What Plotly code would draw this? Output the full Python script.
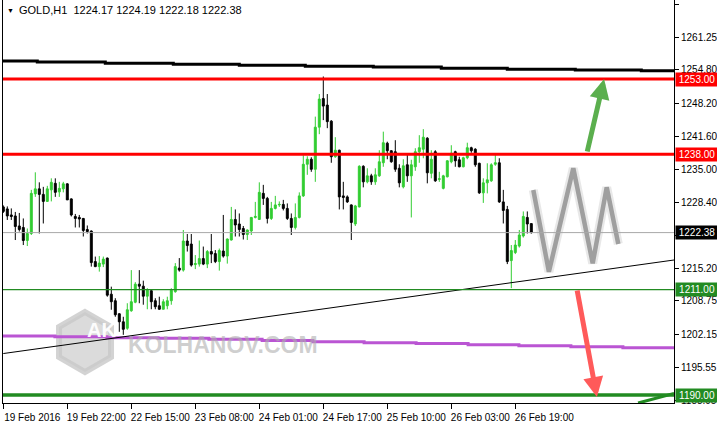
import plotly.graph_objects as go

# ── H1 candles, 19-26 Feb 2016 ──────────────────────────────────────────────
OPEN = [
    1227.5, 1227.1, 1225.9, 1225.7, 1223.7, 1223.4, 1220.8, 1222.2, 1230.1, 1231.1,
    1230.0, 1228.6, 1230.9, 1232.2, 1230.5, 1231.1, 1232.1, 1229.1, 1225.6, 1225.4,
    1225.2, 1223.0, 1222.7, 1216.6, 1215.6, 1216.1, 1217.3, 1210.1, 1208.8, 1206.2,
    1204.6, 1203.3, 1206.8, 1208.5, 1212.1, 1211.7, 1209.7, 1210.8, 1208.8, 1207.8,
    1207.1, 1207.8, 1208.8, 1210.6, 1215.3, 1214.9, 1220.7, 1220.1, 1216.0, 1216.1,
    1217.2, 1216.1, 1218.6, 1218.2, 1216.6, 1218.7, 1217.7, 1220.9, 1225.0, 1224.1,
    1223.2, 1222.0, 1222.7, 1225.4, 1225.0, 1230.2, 1229.2, 1225.2, 1227.2, 1227.9,
    1228.0, 1227.2, 1225.2, 1223.4, 1225.4, 1229.7, 1236.0, 1237.0, 1235.0, 1243.4,
    1249.1, 1247.8, 1244.6, 1237.5, 1238.8, 1229.7, 1229.5, 1227.9, 1224.1, 1227.5,
    1235.6, 1232.5, 1233.7, 1232.5, 1233.7, 1236.3, 1240.2, 1238.7, 1238.5, 1235.2,
    1231.5, 1235.9, 1233.7, 1235.5, 1238.5, 1239.0, 1241.2, 1234.2, 1238.5, 1233.0,
    1231.2, 1233.5, 1236.5, 1238.5, 1236.9, 1235.5, 1237.3, 1239.3, 1239.0, 1236.2,
    1230.3, 1232.3, 1232.7, 1236.0, 1236.3, 1228.5, 1227.0, 1216.8, 1218.4, 1219.7,
    1221.7, 1225.4, 1224.17,
]
HIGH = [
    1227.8, 1227.6, 1227.2, 1226.5, 1226.3, 1225.2, 1223.2, 1230.9, 1234.4, 1232.4,
    1231.5, 1231.7, 1233.2, 1233.2, 1232.5, 1232.5, 1232.2, 1229.2, 1226.1, 1225.9,
    1225.3, 1223.8, 1222.8, 1217.6, 1217.7, 1217.6, 1217.4, 1211.6, 1209.3, 1206.3,
    1205.6, 1208.3, 1214.9, 1212.5, 1214.9, 1212.8, 1211.3, 1211.1, 1209.3, 1209.6,
    1209.1, 1209.6, 1211.3, 1216.3, 1217.3, 1222.9, 1222.1, 1222.1, 1217.9, 1220.8,
    1219.6, 1218.9, 1222.1, 1218.9, 1219.2, 1225.9, 1221.2, 1227.5, 1227.0, 1226.2,
    1223.7, 1223.0, 1225.5, 1228.5, 1232.4, 1231.9, 1229.5, 1228.5, 1229.7, 1228.6,
    1228.9, 1228.2, 1226.2, 1228.2, 1230.4, 1237.8, 1237.6, 1237.4, 1245.5, 1250.0,
    1253.5, 1250.0, 1244.8, 1241.4, 1238.9, 1232.5, 1229.8, 1228.0, 1227.9, 1235.8,
    1235.8, 1235.2, 1234.1, 1235.2, 1238.8, 1242.5, 1240.5, 1238.8, 1240.8, 1236.0,
    1237.0, 1238.2, 1236.9, 1239.2, 1241.8, 1243.0, 1241.4, 1238.8, 1238.8, 1234.5,
    1233.9, 1236.8, 1239.8, 1238.7, 1237.5, 1237.5, 1240.3, 1239.5, 1239.2, 1236.3,
    1233.2, 1236.2, 1236.2, 1238.2, 1237.2, 1230.9, 1227.7, 1219.9, 1220.9, 1222.9,
    1226.6, 1226.6, 1224.19,
]
LOW = [
    1226.3, 1224.9, 1224.9, 1220.9, 1222.6, 1219.9, 1219.7, 1221.9, 1229.5, 1222.2,
    1224.2, 1228.5, 1228.6, 1229.5, 1229.5, 1230.4, 1228.9, 1225.6, 1223.4, 1223.4,
    1221.6, 1222.2, 1215.6, 1215.5, 1214.6, 1215.5, 1209.6, 1207.0, 1205.6, 1202.6,
    1202.0, 1203.0, 1206.6, 1208.3, 1208.3, 1208.0, 1207.1, 1207.1, 1207.1, 1207.0,
    1207.1, 1207.1, 1208.0, 1210.4, 1214.6, 1214.6, 1218.6, 1215.6, 1215.1, 1215.6,
    1215.9, 1215.3, 1216.3, 1216.3, 1214.8, 1217.4, 1216.2, 1220.8, 1221.6, 1221.6,
    1221.0, 1220.9, 1221.9, 1225.2, 1224.9, 1227.9, 1224.2, 1224.9, 1227.0, 1227.5,
    1226.8, 1224.9, 1221.9, 1223.0, 1225.2, 1229.5, 1233.9, 1234.5, 1232.5, 1242.0,
    1244.8, 1243.2, 1236.3, 1237.3, 1227.0, 1227.0, 1228.3, 1220.9, 1223.7, 1227.4,
    1231.4, 1232.2, 1231.9, 1231.9, 1233.5, 1235.5, 1237.0, 1236.3, 1234.5, 1231.4,
    1231.2, 1232.5, 1225.4, 1234.7, 1236.3, 1237.2, 1232.2, 1233.2, 1232.5, 1232.5,
    1231.0, 1233.4, 1236.2, 1235.5, 1235.4, 1235.4, 1237.0, 1238.3, 1235.5, 1230.1,
    1228.3, 1230.2, 1232.5, 1235.7, 1228.3, 1224.2, 1216.1, 1211.3, 1218.1, 1219.4,
    1221.4, 1222.2, 1222.18,
]
CLOSE = [
    1226.6, 1225.7, 1225.6, 1223.6, 1223.0, 1220.8, 1222.2, 1230.2, 1231.1, 1230.0,
    1228.6, 1231.1, 1232.4, 1230.4, 1231.2, 1232.1, 1228.9, 1225.9, 1225.2, 1225.1,
    1222.8, 1222.6, 1216.4, 1215.6, 1216.3, 1217.1, 1209.9, 1208.6, 1206.0, 1204.6,
    1203.1, 1207.0, 1208.6, 1212.1, 1211.7, 1209.7, 1210.9, 1208.6, 1207.6, 1207.1,
    1208.6, 1208.8, 1210.9, 1215.6, 1214.9, 1220.7, 1219.8, 1215.9, 1216.2, 1217.2,
    1216.1, 1218.6, 1218.1, 1216.6, 1218.8, 1217.7, 1221.1, 1225.0, 1223.9, 1223.0,
    1222.0, 1222.9, 1225.4, 1225.6, 1230.4, 1229.2, 1225.2, 1227.2, 1227.9, 1228.0,
    1227.2, 1225.2, 1223.4, 1225.4, 1229.7, 1236.0, 1237.0, 1235.0, 1243.4, 1249.0,
    1247.6, 1244.5, 1237.5, 1238.8, 1229.5, 1229.4, 1228.5, 1224.4, 1227.7, 1235.6,
    1232.5, 1233.7, 1232.5, 1233.9, 1236.5, 1240.3, 1238.7, 1236.5, 1235.0, 1232.3,
    1235.7, 1233.7, 1235.9, 1238.5, 1239.3, 1241.4, 1234.3, 1237.0, 1232.7, 1233.1,
    1233.7, 1236.7, 1238.2, 1236.7, 1235.5, 1237.3, 1239.3, 1238.7, 1235.9, 1230.3,
    1232.3, 1232.9, 1235.9, 1236.3, 1228.5, 1226.8, 1216.6, 1218.8, 1219.9, 1221.9,
    1225.6, 1224.1, 1222.38,
]

# time axis labels, one every 16 bars
TIME_TICK_BARS = [0, 16, 32, 48, 64, 80, 96, 112, 128]
TIME_TICK_LABELS = ["19 Feb 2016", "19 Feb 22:00", "22 Feb 15:00", "23 Feb 08:00",
                    "24 Feb 01:00", "24 Feb 17:00", "25 Feb 10:00", "26 Feb 03:00",
                    "26 Feb 19:00"]
PRICE_TICKS = [1188.95, 1195.55, 1202.15, 1208.75, 1215.20, 1221.80, 1228.40,
               1235.00, 1241.60, 1248.20, 1254.80, 1261.25, 1267.85]

# horizontal levels
RESISTANCE = [1253.00, 1238.00]
SUPPORT = [1211.00, 1190.00]

# stepped higher-timeframe averages (bar index where value changes, values)
MA_BLACK_STEPS = [8.5, 25.5, 42.5, 59.0, 75.5, 92.5, 109.5, 126.0, 143.0, 159.5]
MA_BLACK_VALUES = [1256.59, 1256.39, 1256.13, 1255.93, 1255.73, 1255.53, 1255.39,
                   1255.13, 1254.93, 1254.79, 1254.65]
MA_PURPLE_STEPS = [12.9, 25.9, 38.7, 51.4, 64.7, 77.4, 90.2, 103.2, 116.2, 128.9,
                   141.9, 154.9]
MA_PURPLE_VALUES = [1201.76, 1201.62, 1201.42, 1201.30, 1201.11, 1200.87, 1200.63,
                    1200.43, 1200.27, 1200.04, 1199.82, 1199.62, 1199.43]

# trend lines: two anchor points each (bar index, price)
TREND_BLACK = [(0.0, 1198.27), (167.7, 1216.92)]
TREND_GREEN = [(158.7, 1188.40), (167.7, 1190.30)]

# forecast drawing
ZIGZAG_X = [132.5, 136.4, 142.5, 147.35, 150.85, 153.75]
ZIGZAG_Y = [1230.87, 1214.58, 1235.20, 1216.26, 1231.41, 1220.11]
ARROW_UP = [(145.9, 1238.25), (150.2, 1253.0)]
ARROW_DOWN = [(143.4, 1211.13), (148.4, 1189.6)]

X_RANGE = [-0.075, 167.675]
Y_RANGE = [1188.41, 1268.75]

GREEN = "#32CD32"
DARK_GREEN = "#228B22"
FONT = "'Liberation Sans', Arial, sans-serif"

W, H = 717, 424
ML, MR, MT, MB = 3, 43, 0, 21
PW, PH = W - ML - MR, H - MT - MB


def px_x(px):
    return (px - ML) / PW


def px_y(py):
    return 1 - (py - MT) / PH


bars = list(range(len(CLOSE)))

fig = go.Figure()

fig.add_trace(go.Candlestick(
    x=bars, open=OPEN, high=HIGH, low=LOW, close=CLOSE,
    increasing=dict(line=dict(color=GREEN, width=1), fillcolor=GREEN),
    decreasing=dict(line=dict(color="#000000", width=1), fillcolor="#000000"),
    whiskerwidth=0, showlegend=False, hoverinfo="skip",
))


def stepped(steps, values):
    xs = [X_RANGE[0]] + steps + [X_RANGE[1]]
    ys = values + [values[-1]]
    return xs, ys


xs, ys = stepped(MA_BLACK_STEPS, MA_BLACK_VALUES)
fig.add_trace(go.Scatter(x=xs, y=ys, mode="lines", line_shape="hv",
                         line=dict(color="#000000", width=3), hoverinfo="skip"))
xs, ys = stepped(MA_PURPLE_STEPS, MA_PURPLE_VALUES)
fig.add_trace(go.Scatter(x=xs, y=ys, mode="lines", line_shape="hv",
                         line=dict(color="#BA55D3", width=3), hoverinfo="skip"))

for pts, col, w in [(TREND_BLACK, "#000000", 1), (TREND_GREEN, DARK_GREEN, 3)]:
    fig.add_trace(go.Scatter(x=[p[0] for p in pts], y=[p[1] for p in pts],
                             mode="lines", line=dict(color=col, width=w),
                             hoverinfo="skip"))

# zigzag with soft shadow
fig.add_trace(go.Scatter(x=ZIGZAG_X, y=ZIGZAG_Y, mode="lines",
                         line=dict(color="rgba(150,150,150,0.22)", width=9),
                         hoverinfo="skip"))
fig.add_trace(go.Scatter(x=ZIGZAG_X, y=ZIGZAG_Y, mode="lines",
                         line=dict(color="rgba(140,140,140,0.8)", width=4.5),
                         hoverinfo="skip"))

shapes = []
for lvl in RESISTANCE:
    shapes.append(dict(type="line", xref="paper", x0=0, x1=1, yref="y", y0=lvl, y1=lvl,
                       line=dict(color="#FF0000", width=3)))
shapes.append(dict(type="line", xref="paper", x0=0, x1=1, yref="y",
                   y0=SUPPORT[0], y1=SUPPORT[0], line=dict(color=DARK_GREEN, width=1.3)))
shapes.append(dict(type="line", xref="paper", x0=0, x1=1, yref="y",
                   y0=SUPPORT[1], y1=SUPPORT[1], line=dict(color=DARK_GREEN, width=3.5)))
shapes.append(dict(type="line", xref="paper", x0=0, x1=1, yref="y",
                   y0=CLOSE[-1], y1=CLOSE[-1], line=dict(color="#A8A8A8", width=1)))

# watermark hexagon
hx, hy, hr = 85, 342, 30
hexpts = [(hx, hy - hr), (hx + 26, hy - hr / 2), (hx + 26, hy + hr / 2),
          (hx, hy + hr), (hx - 26, hy + hr / 2), (hx - 26, hy - hr / 2)]
path = "M " + " L ".join(f"{px_x(a):.4f},{px_y(b):.4f}" for a, b in hexpts) + " Z"
shapes.append(dict(type="path", xref="paper", yref="paper", path=path, layer="below",
                   line=dict(color="rgba(200,200,200,0.8)", width=6),
                   fillcolor="rgba(190,190,190,0.55)"))

annotations = []
for lvl, bg in [(RESISTANCE[0], "#FF0000"), (RESISTANCE[1], "#FF0000"),
                (CLOSE[-1], "#000000"), (SUPPORT[0], DARK_GREEN), (SUPPORT[1], DARK_GREEN)]:
    annotations.append(dict(xref="paper", x=1, xanchor="left", xshift=1, yref="y", y=lvl,
                            yanchor="middle", text=f"{lvl:.2f}", showarrow=False,
                            bgcolor=bg, borderpad=1, width=40,
                            font=dict(color="#FFFFFF", size=10, family=FONT)))

for (x0, y0), (x1, y1), col in [(ARROW_UP[0], ARROW_UP[1], "#5BAF4E"),
                                (ARROW_DOWN[0], ARROW_DOWN[1], "#FF5A5A")]:
    annotations.append(dict(x=x1, y=y1, ax=x0, ay=y0, xref="x", yref="y",
                            axref="x", ayref="y", text="", showarrow=True,
                            arrowhead=2, arrowsize=0.8, arrowwidth=5, arrowcolor=col,
                            standoff=0))

header = "GOLD,H1\u00a0\u00a0" + " ".join(f"{v:.2f}" for v in
                                          (OPEN[-1], HIGH[-1], LOW[-1], CLOSE[-1]))
annotations.append(dict(xref="paper", yref="paper", x=px_x(5), y=px_y(10),
                        xanchor="left", yanchor="middle", text="\u25bc", showarrow=False,
                        font=dict(size=7, color="#000000", family=FONT)))
annotations.append(dict(xref="paper", yref="paper", x=px_x(17), y=px_y(10),
                        xanchor="left", yanchor="middle", text=header, showarrow=False,
                        font=dict(size=11, color="#000000", family=FONT)))

annotations.append(dict(xref="paper", yref="paper", x=px_x(hx), y=px_y(hy + 1),
                        text="<b>AK</b>", showarrow=False,
                        font=dict(size=20, color="rgba(255,255,255,0.95)",
                                  family="Liberation Sans, Arial")))
annotations.append(dict(xref="paper", yref="paper", x=px_x(126), y=px_y(345),
                        xanchor="left", yanchor="middle", text="<b>KOLHANOV.COM</b>",
                        showarrow=False,
                        font=dict(size=23, color="rgba(175,175,175,0.6)",
                                  family="Liberation Sans, Arial")))

fig.update_layout(
    width=W, height=H,
    margin=dict(l=ML, r=MR, t=MT, b=MB, autoexpand=False),
    paper_bgcolor="#FFFFFF", plot_bgcolor="#FFFFFF",
    showlegend=False,
    shapes=shapes, annotations=annotations,
    font=dict(family=FONT, size=10, color="#000000"),
)
fig.update_xaxes(
    range=X_RANGE, rangeslider_visible=False, showgrid=False, zeroline=False,
    tickmode="array", tickvals=TIME_TICK_BARS, ticktext=TIME_TICK_LABELS,
    ticks="outside", ticklen=5, tickcolor="#000000", ticklabelshift=29,
    tickangle=0, automargin=False,
    showline=True, linecolor="#000000", linewidth=1,
    tickfont=dict(size=10, family=FONT),
)
fig.update_yaxes(
    range=Y_RANGE, side="right", showgrid=False, zeroline=False,
    tickmode="array", tickvals=PRICE_TICKS, ticktext=[f"{v:.2f}" for v in PRICE_TICKS],
    ticks="outside", ticklen=4, tickcolor="#000000", automargin=False,
    showline=True, linecolor="#000000", linewidth=1, mirror=True,
    tickfont=dict(size=10, family=FONT),
)

# the page body has a default margin; drop it so the figure sits at the corner
fig.write_html("out.html", config={"displayModeBar": False},
               post_script="document.body.style.margin='0';document.body.style.padding='0';")
